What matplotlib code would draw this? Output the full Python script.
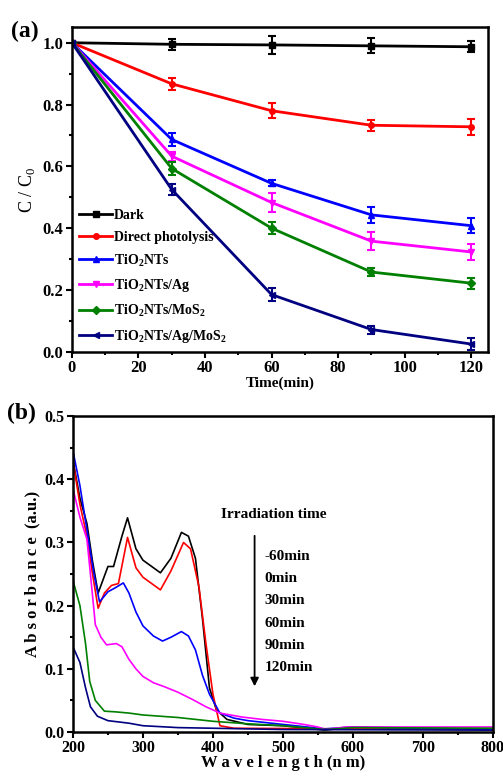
import matplotlib
matplotlib.use("Agg")
import matplotlib.pyplot as plt
from matplotlib.ticker import MultipleLocator

plt.rcParams['font.family'] = ['Liberation Serif', 'DejaVu Serif']
plt.rcParams['mathtext.fontset'] = 'custom'
plt.rcParams['mathtext.rm'] = 'Liberation Serif'
plt.rcParams['mathtext.bf'] = 'Liberation Serif:bold'

# ---- panel (a): degradation kinetics ----
time = [0, 30, 60, 90, 120]
names = ['Dark', 'Direct photolysis', r'TiO$_\mathbf{2}$NTs', r'TiO$_\mathbf{2}$NTs/Ag',
         r'TiO$_\mathbf{2}$NTs/MoS$_\mathbf{2}$', r'TiO$_\mathbf{2}$NTs/Ag/MoS$_\mathbf{2}$']
dark = [1.0, 0.995, 0.993, 0.990, 0.987]
photolysis = [1.0, 0.867, 0.780, 0.733, 0.728]
tio2 = [1.0, 0.687, 0.545, 0.443, 0.408]
tio2_ag = [1.0, 0.633, 0.483, 0.358, 0.323]
tio2_mos2 = [1.0, 0.593, 0.400, 0.258, 0.222]
tio2_ag_mos2 = [1.0, 0.525, 0.185, 0.072, 0.025]
err_dark = [0, 0.018, 0.028, 0.024, 0.018]
err_photolysis = [0, 0.020, 0.025, 0.017, 0.025]
err_tio2 = [0, 0.020, 0.010, 0.025, 0.025]
err_tio2_ag = [0, 0.015, 0.030, 0.028, 0.025]
err_tio2_mos2 = [0, 0.020, 0.020, 0.012, 0.018]
err_tio2_ag_mos2 = [0, 0.017, 0.022, 0.013, 0.020]

# ---- panel (b): UV-vis spectra ----
spec_labels = ['-60min', '0min', '30min', '60min', '90min', '120min']
wl_m60 = [200, 210, 220, 228, 236, 250, 258, 270, 278, 290, 300, 325, 340, 355, 365, 375, 385, 395, 405, 420, 450, 500, 560, 600, 700, 800]
ab_m60 = [0.43, 0.37, 0.33, 0.27, 0.22, 0.262, 0.262, 0.31, 0.339, 0.29, 0.272, 0.252, 0.275, 0.316, 0.31, 0.275, 0.18, 0.07, 0.035, 0.02, 0.012, 0.01, 0.003, 0.008, 0.005, 0.005]
wl_0 = [200, 210, 220, 228, 236, 245, 255, 265, 278, 290, 300, 325, 340, 358, 368, 380, 390, 400, 410, 430, 600, 800]
ab_0 = [0.43, 0.36, 0.31, 0.25, 0.196, 0.22, 0.232, 0.235, 0.308, 0.26, 0.245, 0.225, 0.255, 0.30, 0.29, 0.23, 0.14, 0.06, 0.01, 0.006, 0.005, 0.004]
wl_30 = [200, 210, 220, 230, 238, 250, 260, 272, 280, 290, 300, 315, 328, 340, 355, 365, 375, 385, 395, 410, 430, 450, 500, 560, 600, 800]
ab_30 = [0.445, 0.39, 0.32, 0.25, 0.206, 0.222, 0.228, 0.236, 0.22, 0.19, 0.168, 0.152, 0.144, 0.15, 0.159, 0.152, 0.13, 0.09, 0.06, 0.03, 0.022, 0.018, 0.012, 0.005, 0.008, 0.004]
wl_60 = [200, 210, 220, 225, 232, 240, 248, 262, 270, 280, 290, 300, 315, 330, 350, 370, 390, 410, 440, 470, 500, 530, 550, 560, 590, 650, 800]
ab_60 = [0.385, 0.34, 0.305, 0.25, 0.17, 0.15, 0.138, 0.14, 0.135, 0.115, 0.10, 0.088, 0.078, 0.072, 0.063, 0.052, 0.04, 0.03, 0.024, 0.02, 0.017, 0.012, 0.008, 0.004, 0.008, 0.008, 0.008]
wl_90 = [200, 210, 218, 224, 232, 245, 260, 280, 300, 350, 400, 450, 500, 560, 600, 800]
ab_90 = [0.24, 0.20, 0.14, 0.08, 0.05, 0.033, 0.032, 0.03, 0.027, 0.023, 0.017, 0.013, 0.01, 0.004, 0.007, 0.006]
wl_120 = [200, 210, 218, 225, 235, 250, 280, 300, 350, 400, 500, 800]
ab_120 = [0.135, 0.11, 0.07, 0.04, 0.025, 0.018, 0.014, 0.01, 0.007, 0.006, 0.004, 0.003]

colors = ['black', 'red', 'blue', 'magenta', 'green', 'navy']
markers = ['s', 'o', '^', 'v', 'D', '<']

fig = plt.figure(figsize=(5.03, 7.80), dpi=100)

ax1 = fig.add_axes([0.143, 0.549, 0.827, 0.416])
series = [dark, photolysis, tio2, tio2_ag, tio2_mos2, tio2_ag_mos2]
errs = [err_dark, err_photolysis, err_tio2, err_tio2_ag, err_tio2_mos2, err_tio2_ag_mos2]
handles = []
for y, e, c, m, lab in zip(series, errs, colors, markers, names):
    cont = ax1.errorbar(time, y, yerr=e, color=c, marker=m, ms=4, lw=2, elinewidth=1.5,
                        capsize=3, capthick=1.5, label=lab)
    handles.append(cont[0])
ax1.set_xlim(0, 125)
ax1.set_ylim(0, 1.05)
ax1.xaxis.set_major_locator(MultipleLocator(20))
ax1.xaxis.set_minor_locator(MultipleLocator(10))
ax1.yaxis.set_major_locator(MultipleLocator(0.2))
ax1.yaxis.set_minor_locator(MultipleLocator(0.1))
ax1.yaxis.set_major_formatter(plt.FormatStrFormatter('%.1f'))
ax1.set_xlabel('Time(min)', fontsize=11, fontweight='bold', labelpad=0)
ax1.set_ylabel(r'C / C$_0$', fontsize=13, labelpad=4)
ax1.legend(handles, names, loc='lower left', frameon=False, handlelength=2.4,
           handletextpad=0.15, borderaxespad=0.1, labelspacing=0.62,
           prop={'weight': 'bold', 'size': 10})
fig.text(0.022, 0.952, '(a)', fontsize=17, fontweight='bold')

ax2 = fig.add_axes([0.145, 0.0615, 0.835, 0.405])
wls = [wl_m60, wl_0, wl_30, wl_60, wl_90, wl_120]
abs_ = [ab_m60, ab_0, ab_30, ab_60, ab_90, ab_120]
for w, a, c in zip(wls, abs_, colors):
    ax2.plot(w, a, color=c, lw=1.2)
ax2.set_xlim(200, 800)
ax2.set_ylim(0, 0.5)
ax2.xaxis.set_major_locator(MultipleLocator(100))
ax2.xaxis.set_minor_locator(MultipleLocator(50))
ax2.yaxis.set_major_locator(MultipleLocator(0.1))
ax2.yaxis.set_minor_locator(MultipleLocator(0.05))
ax2.set_xlabel('W a v e l e n g t h (n m)', fontsize=12, fontweight='bold', labelpad=-1)
ax2.set_ylabel('A b s o r b a n c e  (a.u.)', fontsize=12, fontweight='bold', labelpad=3)
ax2.text(412, 0.344, 'Irradiation time', fontsize=11, fontweight='bold', va='center')
ax2.annotate('', xy=(459.5, 0.068), xytext=(459.5, 0.315),
             arrowprops=dict(arrowstyle='-|>', color='black', lw=1.3, mutation_scale=12))
for i, lab in enumerate(spec_labels):
    ax2.text(474, 0.278 - i * 0.0352, lab, fontsize=11, fontweight='bold', va='center')
fig.text(0.014, 0.463, '(b)', fontsize=17, fontweight='bold')

for ax in (ax1, ax2):
    for s in ax.spines.values():
        s.set_linewidth(1.8)
    ax.tick_params(which='both', direction='out', top=False, right=False, width=1.5)
    ax.tick_params(which='major', length=4)
    ax.tick_params(which='minor', length=2.5)
    ax.tick_params(pad=2)
    for t in ax.get_xticklabels() + ax.get_yticklabels():
        t.set_fontweight('bold')
ax1.tick_params(labelsize=12)
ax2.tick_params(labelsize=11.5)

fig.savefig('out.png', dpi=100)
